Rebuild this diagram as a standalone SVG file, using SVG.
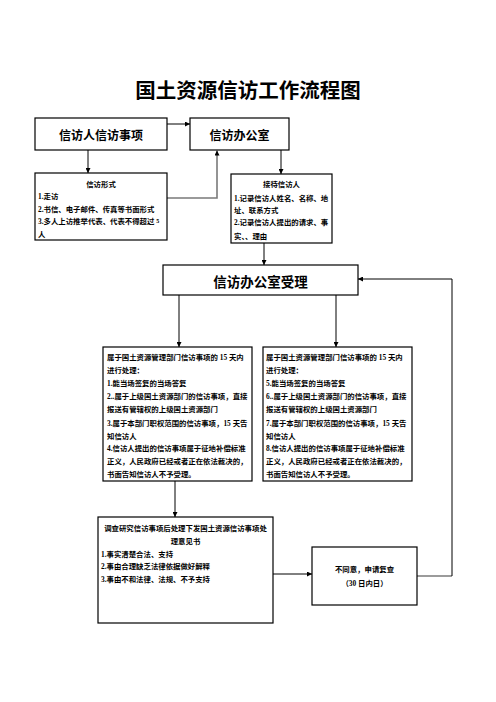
<svg xmlns="http://www.w3.org/2000/svg" width="496" height="702" viewBox="0 0 496 702">
<style>
.box{fill:#fff;stroke:#000;stroke-width:1.2}
.big{font-family:"Noto Sans CJK SC","Liberation Sans",sans-serif;font-weight:700;fill:#000}
.sm{font-family:"Liberation Serif","Noto Sans CJK SC",serif;font-weight:700;font-size:7.4px;fill:#000}
.c{stroke:#000;stroke-width:1;fill:none}
.g{stroke:#7a7a7a;stroke-width:1.6;fill:none}
</style>
<defs>
<marker id="ar" viewBox="0 0 10 10" refX="10" refY="5" markerWidth="5" markerHeight="5" markerUnits="userSpaceOnUse" orient="auto">
<path d="M0,0 L10,5 L0,10 z" fill="#000"/>
</marker>
</defs>
<rect width="496" height="702" fill="#fff"/>
<text id="title" class="big" x="248" y="98" font-size="20.5" text-anchor="middle">国土资源信访工作流程图</text>

<g id="connectors">
<path class="c" d="M167,124 H190" marker-end="url(#ar)"/>
<path class="c" d="M88,150 V173" marker-end="url(#ar)"/>
<path class="g" d="M167,198 H217 V150.5" marker-end="url(#ar)"/>
<path class="c" d="M281,150 V174" marker-end="url(#ar)"/>
<path class="c" d="M264,243 V265" marker-end="url(#ar)"/>
<path class="c" d="M179,295 V347" marker-end="url(#ar)"/>
<path class="c" d="M336,295 V347" marker-end="url(#ar)"/>
<path class="c" d="M175,481 V517" marker-end="url(#ar)"/>
<path class="c" d="M273,574 H312" marker-end="url(#ar)"/>
<path class="g" d="M417,576 H452" />
<path class="c" d="M452,576 V279 H358" stroke="#333" marker-end="url(#ar)"/>
</g>

<g id="n1">
<rect class="box" x="35" y="118" width="132" height="32"/>
<text class="big" x="101" y="139.5" font-size="12" text-anchor="middle">信访人信访事项</text>
</g>
<g id="n2">
<rect class="box" x="190" y="118" width="99" height="32"/>
<text class="big" x="239.5" y="139.5" font-size="12" text-anchor="middle">信访办公室</text>
</g>
<g id="n3">
<rect class="box" x="35" y="173" width="132" height="67"/>
<text class="sm" x="101" y="187" text-anchor="middle">信访形式</text>
<text class="sm" x="38" y="199">1.走访</text>
<text class="sm" x="38" y="211.5">2.书信、电子邮件、传真等书面形式</text>
<text class="sm" x="38" y="224">3.多人上访推举代表、代表不得超过 <tspan font-size="6" dy="-1.5">5</tspan></text>
<text class="sm" x="38" y="236.5">人</text>
</g>
<g id="n4">
<rect class="box" x="231" y="174" width="101" height="69"/>
<text class="sm" x="281.5" y="187" text-anchor="middle">接待信访人</text>
<text class="sm" x="234" y="200.5">1.记录信访人姓名、名称、地</text>
<text class="sm" x="234" y="212.5">址、联系方式</text>
<text class="sm" x="234" y="225">2.记录信访人提出的请求、事</text>
<text class="sm" x="234" y="239">实、、理由</text>
</g>
<g id="n5">
<rect class="box" x="163" y="265" width="195" height="30"/>
<text class="big" x="260.5" y="286.5" font-size="13.5" text-anchor="middle">信访办公室受理</text>
</g>
<g id="n6">
<rect class="box" x="103" y="347" width="149" height="134"/>
<text class="sm" x="107" y="359.5">属于国土资源管理部门信访事项的 15 天内</text>
<text class="sm" x="107" y="373">进行处理：</text>
<text class="sm" x="107" y="386">1.能当场签复的当场答复</text>
<text class="sm" x="107" y="399">2..属于上级国土资源部门的信访事项，直接</text>
<text class="sm" x="107" y="412">报送有管辖权的上级国土资源部门</text>
<text class="sm" x="107" y="425.5">3.属于本部门职权范围的信访事项，15 天告</text>
<text class="sm" x="107" y="438.5">知信访人</text>
<text class="sm" x="107" y="451">4.信访人提出的信访事项属于征地补偿标准</text>
<text class="sm" x="107" y="464">正义，人民政府已经或者正在依法裁决的，</text>
<text class="sm" x="107" y="477">书面告知信访人不予受理。</text>
</g>
<g id="n7">
<rect class="box" x="263" y="347" width="149" height="134"/>
<text class="sm" x="266" y="359.5">属于国土资源管理部门信访事项的 15 天内</text>
<text class="sm" x="266" y="373">进行处理：</text>
<text class="sm" x="266" y="386">5.能当场签复的当场答复</text>
<text class="sm" x="266" y="399">6..属于上级国土资源部门的信访事项，直接</text>
<text class="sm" x="266" y="412">报送有管辖权的上级国土资源部门</text>
<text class="sm" x="266" y="425.5">7.属于本部门职权范围的信访事项，15 天告</text>
<text class="sm" x="266" y="438.5">知信访人</text>
<text class="sm" x="266" y="451">8.信访人提出的信访事项属于征地补偿标准</text>
<text class="sm" x="266" y="464">正义，人民政府已经或者正在依法裁决的，</text>
<text class="sm" x="266" y="477">书面告知信访人不予受理。</text>
</g>
<g id="n9">
<rect class="box" x="98" y="517" width="175" height="106"/>
<text class="sm" x="185.5" y="530.5" text-anchor="middle">调查研究信访事项后处理下发国土资源信访事项处</text>
<text class="sm" x="185.5" y="544" text-anchor="middle">理意见书</text>
<text class="sm" x="101" y="557">1.事实清楚合法、支持</text>
<text class="sm" x="101" y="569">2.事由合理缺乏法律依据做好解释</text>
<text class="sm" x="101" y="581.5">3.事由不和法律、法规、不予支持</text>
</g>
<g id="n8">
<rect class="box" x="312" y="547" width="105" height="58"/>
<text class="sm" x="364.5" y="572" text-anchor="middle">不同意，申请复查</text>
<text class="sm" x="364.5" y="585.5" text-anchor="middle">（30 日内日）</text>
</g>
</svg>
